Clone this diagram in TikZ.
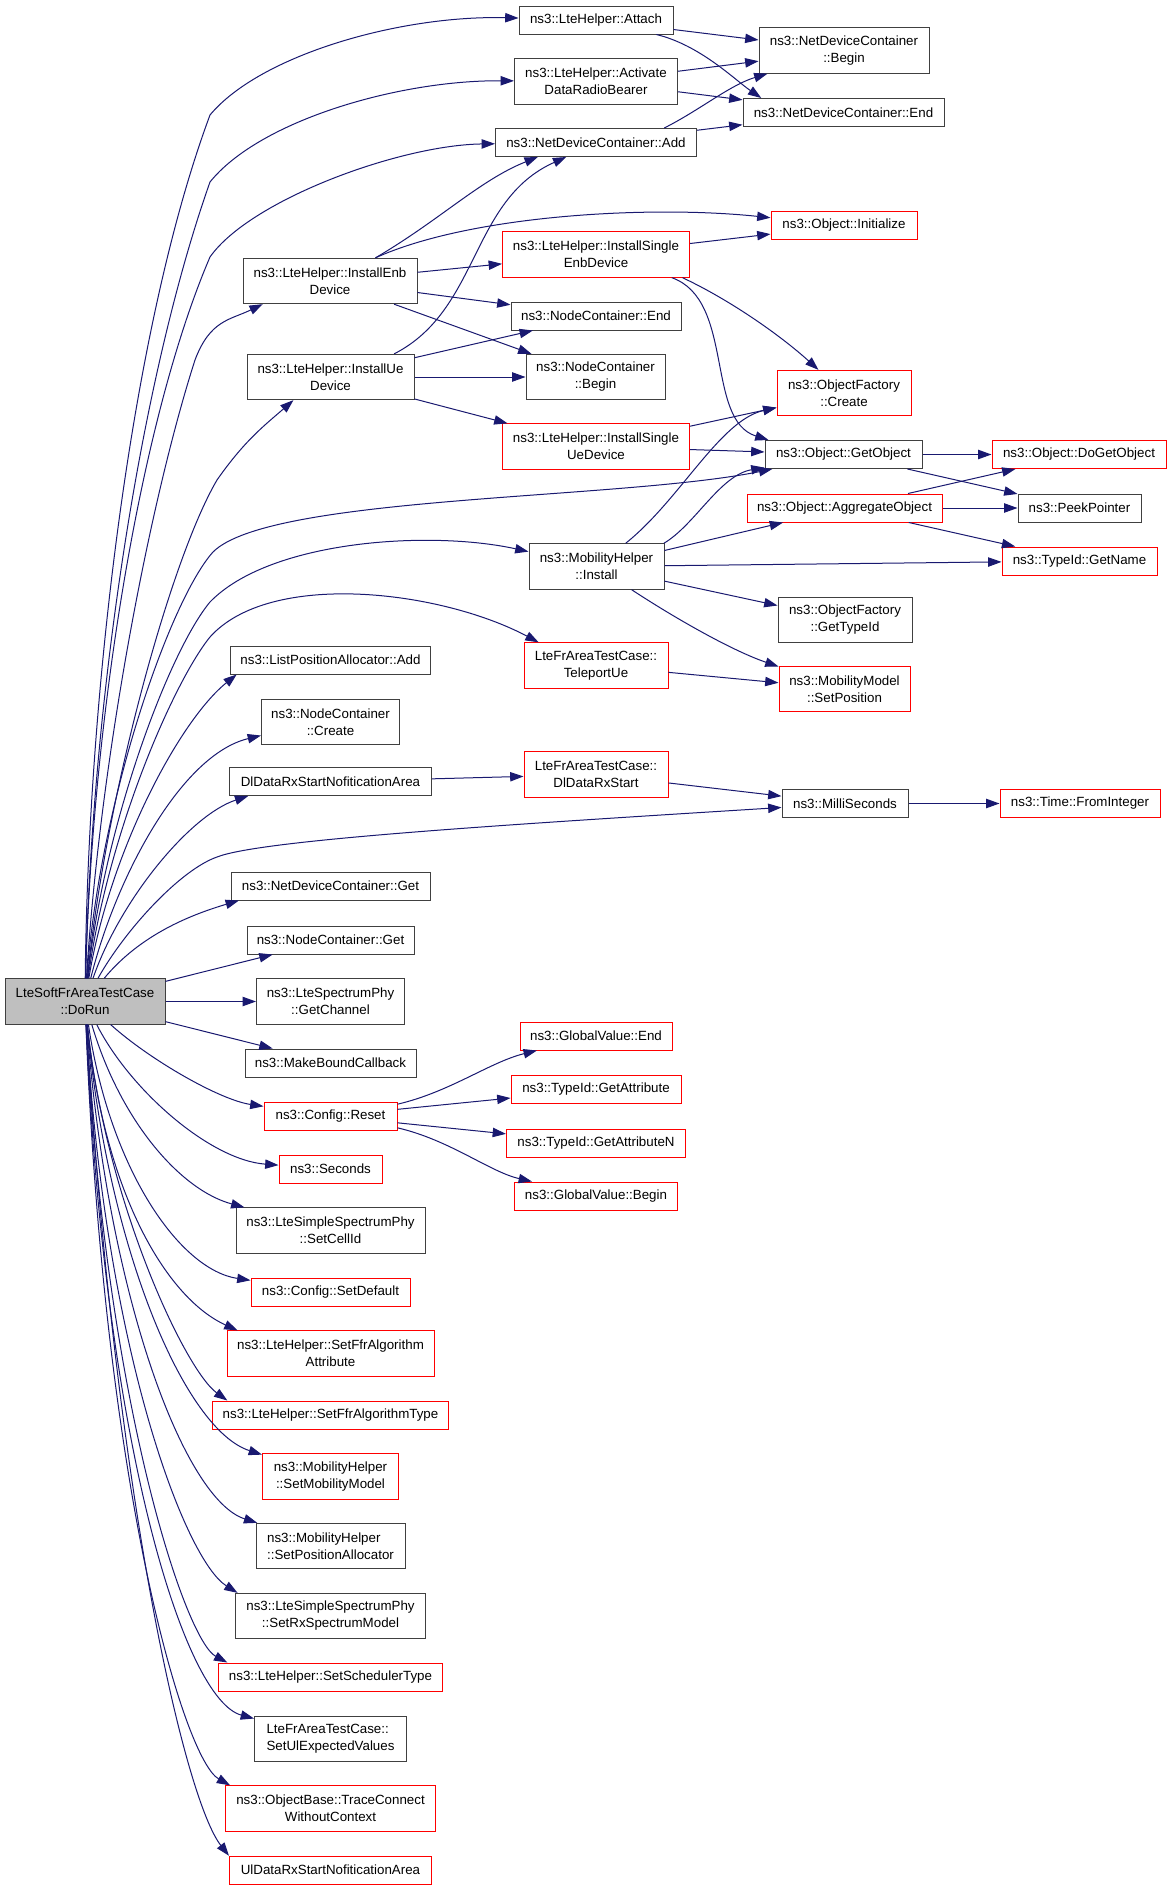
\documentclass[tikz,border=0pt]{standalone}
\usepackage{fontspec}
\setmainfont{Liberation Sans}
\usepackage{xcolor}
\usepackage{tikz}
\usetikzlibrary{arrows.meta}

\definecolor{edgeblue}{HTML}{191970}
\definecolor{boxgray}{HTML}{404040}
\definecolor{boxred}{HTML}{FF0000}
\definecolor{rootfill}{HTML}{BFBFBF}

\tikzset{
    fn/.style={draw=boxgray, line width=0.75pt, fill=white, inner sep=0pt, align=center,
        minimum height=21pt, font=\fontsize{10}{12.75}\selectfont},
    fnred/.style={fn, draw=boxred},
    tall/.style={minimum height=34pt},
    bw/.style={minimum width=#1*0.75pt},
    call/.style={draw=edgeblue, line width=0.75pt, -{Triangle[length=10pt,width=7pt]}}
}

\begin{document}
\begin{tikzpicture}[x=0.75pt, y=-0.75pt]
    \fill[white] (0,0) rectangle (1171,1888);
    \useasboundingbox (0,0) rectangle (1171,1888);

    % Caller
    \node[fn, tall, bw=160, fill=rootfill] (dorun) at (85,1001.5) {LteSoftFrAreaTestCase\\::DoRun};

    % Direct callees
    \node[fn, bw=154] (attach) at (596,20) {ns3::LteHelper::Attach};
    \node[fn, tall, bw=163] (activate) at (596,81.5) {ns3::LteHelper::Activate\\DataRadioBearer};
    \node[fn, bw=201] (ndcadd) at (596,142.5) {ns3::NetDeviceContainer::Add};
    \node[fn, tall, bw=174] (installenb) at (330,281) {ns3::LteHelper::InstallEnb\\Device};
    \node[fn, tall, bw=167] (installue) at (330.5,377) {ns3::LteHelper::InstallUe\\Device};
    \node[fn, bw=157] (getobj) at (843.5,454.5) {ns3::Object::GetObject};
    \node[fn, tall, bw=135] (install) at (596.5,566.5) {ns3::MobilityHelper\\::Install};
    \node[fnred, tall, bw=144] (teleport) at (596,665.5) {LteFrAreaTestCase::\\TeleportUe};
    \node[fn, bw=200] (listadd) at (330.5,660) {ns3::ListPositionAllocator::Add};
    \node[fn, tall, bw=138] (nccreate) at (330.5,722) {ns3::NodeContainer\\::Create};
    \node[fn, bw=202] (dlarea) at (330.5,781.5) {DlDataRxStartNofiticationArea};
    \node[fn, bw=126] (milli) at (845,803.5) {ns3::MilliSeconds};
    \node[fn, bw=199] (ndcget) at (330.5,886) {ns3::NetDeviceContainer::Get};
    \node[fn, bw=167] (ncget) at (330.5,940) {ns3::NodeContainer::Get};
    \node[fn, tall, bw=148] (getchannel) at (330.5,1001.5) {ns3::LteSpectrumPhy\\::GetChannel};
    \node[fn, bw=171] (makebound) at (330.5,1063) {ns3::MakeBoundCallback};
    \node[fnred, bw=133] (reset) at (330.5,1116) {ns3::Config::Reset};
    \node[fnred, bw=103] (seconds) at (330.5,1169) {ns3::Seconds};
    \node[fn, tall, bw=189] (setcellid) at (330.5,1230.5) {ns3::LteSimpleSpectrumPhy\\::SetCellId};
    \node[fnred, bw=159] (setdefault) at (330.5,1292) {ns3::Config::SetDefault};
    \node[fnred, tall, bw=207] (ffrattr) at (330.5,1353.5) {ns3::LteHelper::SetFfrAlgorithm\\Attribute};
    \node[fnred, bw=236] (ffrtype) at (330.5,1415) {ns3::LteHelper::SetFfrAlgorithmType};
    \node[fnred, tall, bw=136] (setmobility) at (330.5,1476.5) {ns3::MobilityHelper\\::SetMobilityModel};
    \node[fn, tall, bw=149, align=left] (setposalloc) at (330.5,1546) {ns3::MobilityHelper\\::SetPositionAllocator};
    \node[fn, tall, bw=190] (setrx) at (330.5,1616) {ns3::LteSimpleSpectrumPhy\\::SetRxSpectrumModel};
    \node[fnred, bw=224] (sched) at (330.5,1677) {ns3::LteHelper::SetSchedulerType};
    \node[fn, tall, bw=152, align=left] (setul) at (330.5,1739) {LteFrAreaTestCase::\\SetUlExpectedValues};
    \node[fnred, tall, bw=210] (trace) at (330.5,1808.5) {ns3::ObjectBase::TraceConnect\\WithoutContext};
    \node[fnred, bw=202] (ularea) at (330.5,1870) {UlDataRxStartNofiticationArea};

    % Deeper callees
    \node[fn, tall, bw=170] (ndcbegin) at (844,50.5) {ns3::NetDeviceContainer\\::Begin};
    \node[fn, bw=201] (ndcend) at (843.5,112.5) {ns3::NetDeviceContainer::End};
    \node[fnred, bw=146] (init) at (844,225.5) {ns3::Object::Initialize};
    \node[fnred, tall, bw=187] (singleenb) at (596,254.5) {ns3::LteHelper::InstallSingle\\EnbDevice};
    \node[fn, bw=170] (ncend) at (596,316) {ns3::NodeContainer::End};
    \node[fn, tall, bw=139] (ncbegin) at (595.5,377) {ns3::NodeContainer\\::Begin};
    \node[fnred, tall, bw=134] (create) at (844,393) {ns3::ObjectFactory\\::Create};
    \node[fnred, tall, bw=187] (singleue) at (596,446.5) {ns3::LteHelper::InstallSingle\\UeDevice};
    \node[fnred, bw=174] (dogetobj) at (1079,454.5) {ns3::Object::DoGetObject};
    \node[fnred, bw=195] (aggregate) at (844.5,508) {ns3::Object::AggregateObject};
    \node[fn, bw=123] (peek) at (1079.5,508) {ns3::PeekPointer};
    \node[fnred, bw=155] (getname) at (1079.5,561) {ns3::TypeId::GetName};
    \node[fn, tall, bw=134] (gettypeid) at (845,620) {ns3::ObjectFactory\\::GetTypeId};
    \node[fnred, tall, bw=131] (setpos) at (844.5,689) {ns3::MobilityModel\\::SetPosition};
    \node[fnred, tall, bw=144] (dlstart) at (596,774.5) {LteFrAreaTestCase::\\DlDataRxStart};
    \node[fnred, bw=160] (frominteger) at (1080,803.5) {ns3::Time::FromInteger};
    \node[fnred, bw=152] (gvend) at (596,1036) {ns3::GlobalValue::End};
    \node[fnred, bw=170] (getattr) at (596,1089.5) {ns3::TypeId::GetAttribute};
    \node[fnred, bw=179] (getattrn) at (596,1143) {ns3::TypeId::GetAttributeN};
    \node[fnred, bw=163] (gvbegin) at (596,1196) {ns3::GlobalValue::Begin};

    % Calls from DoRun, upwards
    \draw[call] (dorun) .. controls (88,700) and (130,330) .. (210,115) .. controls (260,55) and (400,15) .. (attach);
    \draw[call] (dorun) .. controls (92,700) and (140,380) .. (210,182) .. controls (260,120) and (400,80) .. (activate);
    \draw[call] (dorun) .. controls (92,720) and (140,420) .. (210,257) .. controls (250,200) and (400,145) .. (ndcadd);
    \draw[call] (dorun) .. controls (100,760) and (150,500) .. (195,360) .. controls (210,320) and (230,320) .. (installenb.-161);
    \draw[call] (dorun) .. controls (105,800) and (170,560) .. (217,480) .. controls (245,440) and (265,425) .. (installue.-148);
    \draw[call] (dorun) .. controls (100,800) and (170,600) .. (213,552) .. controls (270,495) and (620,500) .. (getobj);
    \draw[call] (dorun) .. controls (105,820) and (170,650) .. (210,602) .. controls (270,540) and (430,530) .. (install);
    \draw[call] (dorun) .. controls (108,830) and (175,680) .. (210,637) .. controls (270,570) and (440,590) .. (teleport.158);
    \draw[call] (dorun) .. controls (110,850) and (180,720) .. ([xshift=5pt]listadd.south west);
    \draw[call] (dorun) .. controls (115,880) and (180,755) .. (nccreate.-169);
    \draw[call] (dorun) .. controls (120,900) and (190,815) .. (dlarea.-170.5);
    \draw[call] (dorun) .. controls (125,930) and (180,870) .. (217,857) .. controls (260,840) and (500,825) .. (milli);
    \draw[call] (dorun) .. controls (140,935) and (190,915) .. (ndcget.-171);
    \draw[call] (dorun) -- (ncget);
    \draw[call] (dorun) -- (getchannel);
    \draw[call] (dorun) -- (makebound);

    % Calls from DoRun, downwards
    \draw[call] (dorun) .. controls (150,1060) and (220,1100) .. (reset);
    \draw[call] (dorun) .. controls (130,1090) and (210,1160) .. (seconds);
    \draw[call] (dorun) .. controls (120,1120) and (180,1190) .. (setcellid);
    \draw[call] (dorun) .. controls (110,1170) and (180,1270) .. (setdefault);
    \draw[call] (dorun) .. controls (105,1200) and (170,1300) .. (ffrattr.166);
    \draw[call] (dorun) .. controls (105,1200) and (185,1370) .. (ffrtype.172);
    \draw[call] (dorun) .. controls (108,1250) and (185,1430) .. (setmobility);
    \draw[call] (dorun) .. controls (108,1300) and (185,1500) .. (setposalloc);
    \draw[call] (dorun) .. controls (105,1350) and (185,1560) .. (setrx.166);
    \draw[call] (dorun) .. controls (105,1400) and (185,1640) .. (sched.172);
    \draw[call] (dorun) .. controls (105,1450) and (185,1700) .. (setul);
    \draw[call] (dorun) .. controls (105,1500) and (185,1760) .. (trace.167);
    \draw[call] (dorun) .. controls (115,1500) and (185,1800) .. (ularea.172);

    % Second level
    \draw[call] (attach) -- (ndcbegin);
    \draw[call] (attach) .. controls (700,45) and (735,80) .. (ndcend.170);
    \draw[call] (activate) -- (ndcbegin);
    \draw[call] (activate) -- (ndcend);
    \draw[call] (ndcadd.12) .. controls (700,110) and (730,85) .. (ndcbegin);
    \draw[call] (ndcadd) -- (ndcend);

    \draw[call] (installenb.27) .. controls (440,220) and (480,180) .. (ndcadd.-166);
    \draw[call] (installenb.27) .. controls (470,215) and (650,205) .. (init);
    \draw[call] (installenb) -- (singleenb);
    \draw[call] (installenb) -- (ncend);
    \draw[call] (installenb) -- (ncbegin);
    \draw[call] (installue.20.5) .. controls (480,310) and (470,200) .. (ndcadd.-154);
    \draw[call] (installue) -- (ncend);
    \draw[call] (installue) -- (ncbegin);
    \draw[call] (installue) -- (singleue);

    \draw[call] (singleenb) -- (init);
    \draw[call] (singleenb.-15) .. controls (730,300) and (780,335) .. (create);
    \draw[call] (singleenb.-17) .. controls (735,300) and (705,420) .. ([xshift=3pt]getobj.north west);
    \draw[call] (singleue) -- (create);
    \draw[call] (singleue) -- (getobj);

    \draw[call] (getobj) -- (dogetobj);
    \draw[call] (getobj) -- (peek);
    \draw[call] (aggregate) -- (dogetobj);
    \draw[call] (aggregate) -- (peek);
    \draw[call] (aggregate) -- (getname);

    \draw[call] (install) .. controls (680,500) and (720,420) .. (create);
    \draw[call] (install.19.5) .. controls (695,525) and (720,475) .. (getobj);
    \draw[call] (install) -- (aggregate);
    \draw[call] (install) -- (getname);
    \draw[call] (install) -- (gettypeid);
    \draw[call] (install) .. controls (670,615) and (730,650) .. (setpos);
    \draw[call] (teleport) -- (setpos);

    \draw[call] (dlarea) -- (dlstart);
    \draw[call] (dlstart) -- (milli);
    \draw[call] (milli) -- (frominteger);

    \draw[call] (reset.10) .. controls (450,1092) and (490,1062) .. (gvend);
    \draw[call] (reset) -- (getattr);
    \draw[call] (reset) -- (getattrn);
    \draw[call] (reset.-10) .. controls (450,1140) and (490,1172) .. (gvbegin);
\end{tikzpicture}
\end{document}
